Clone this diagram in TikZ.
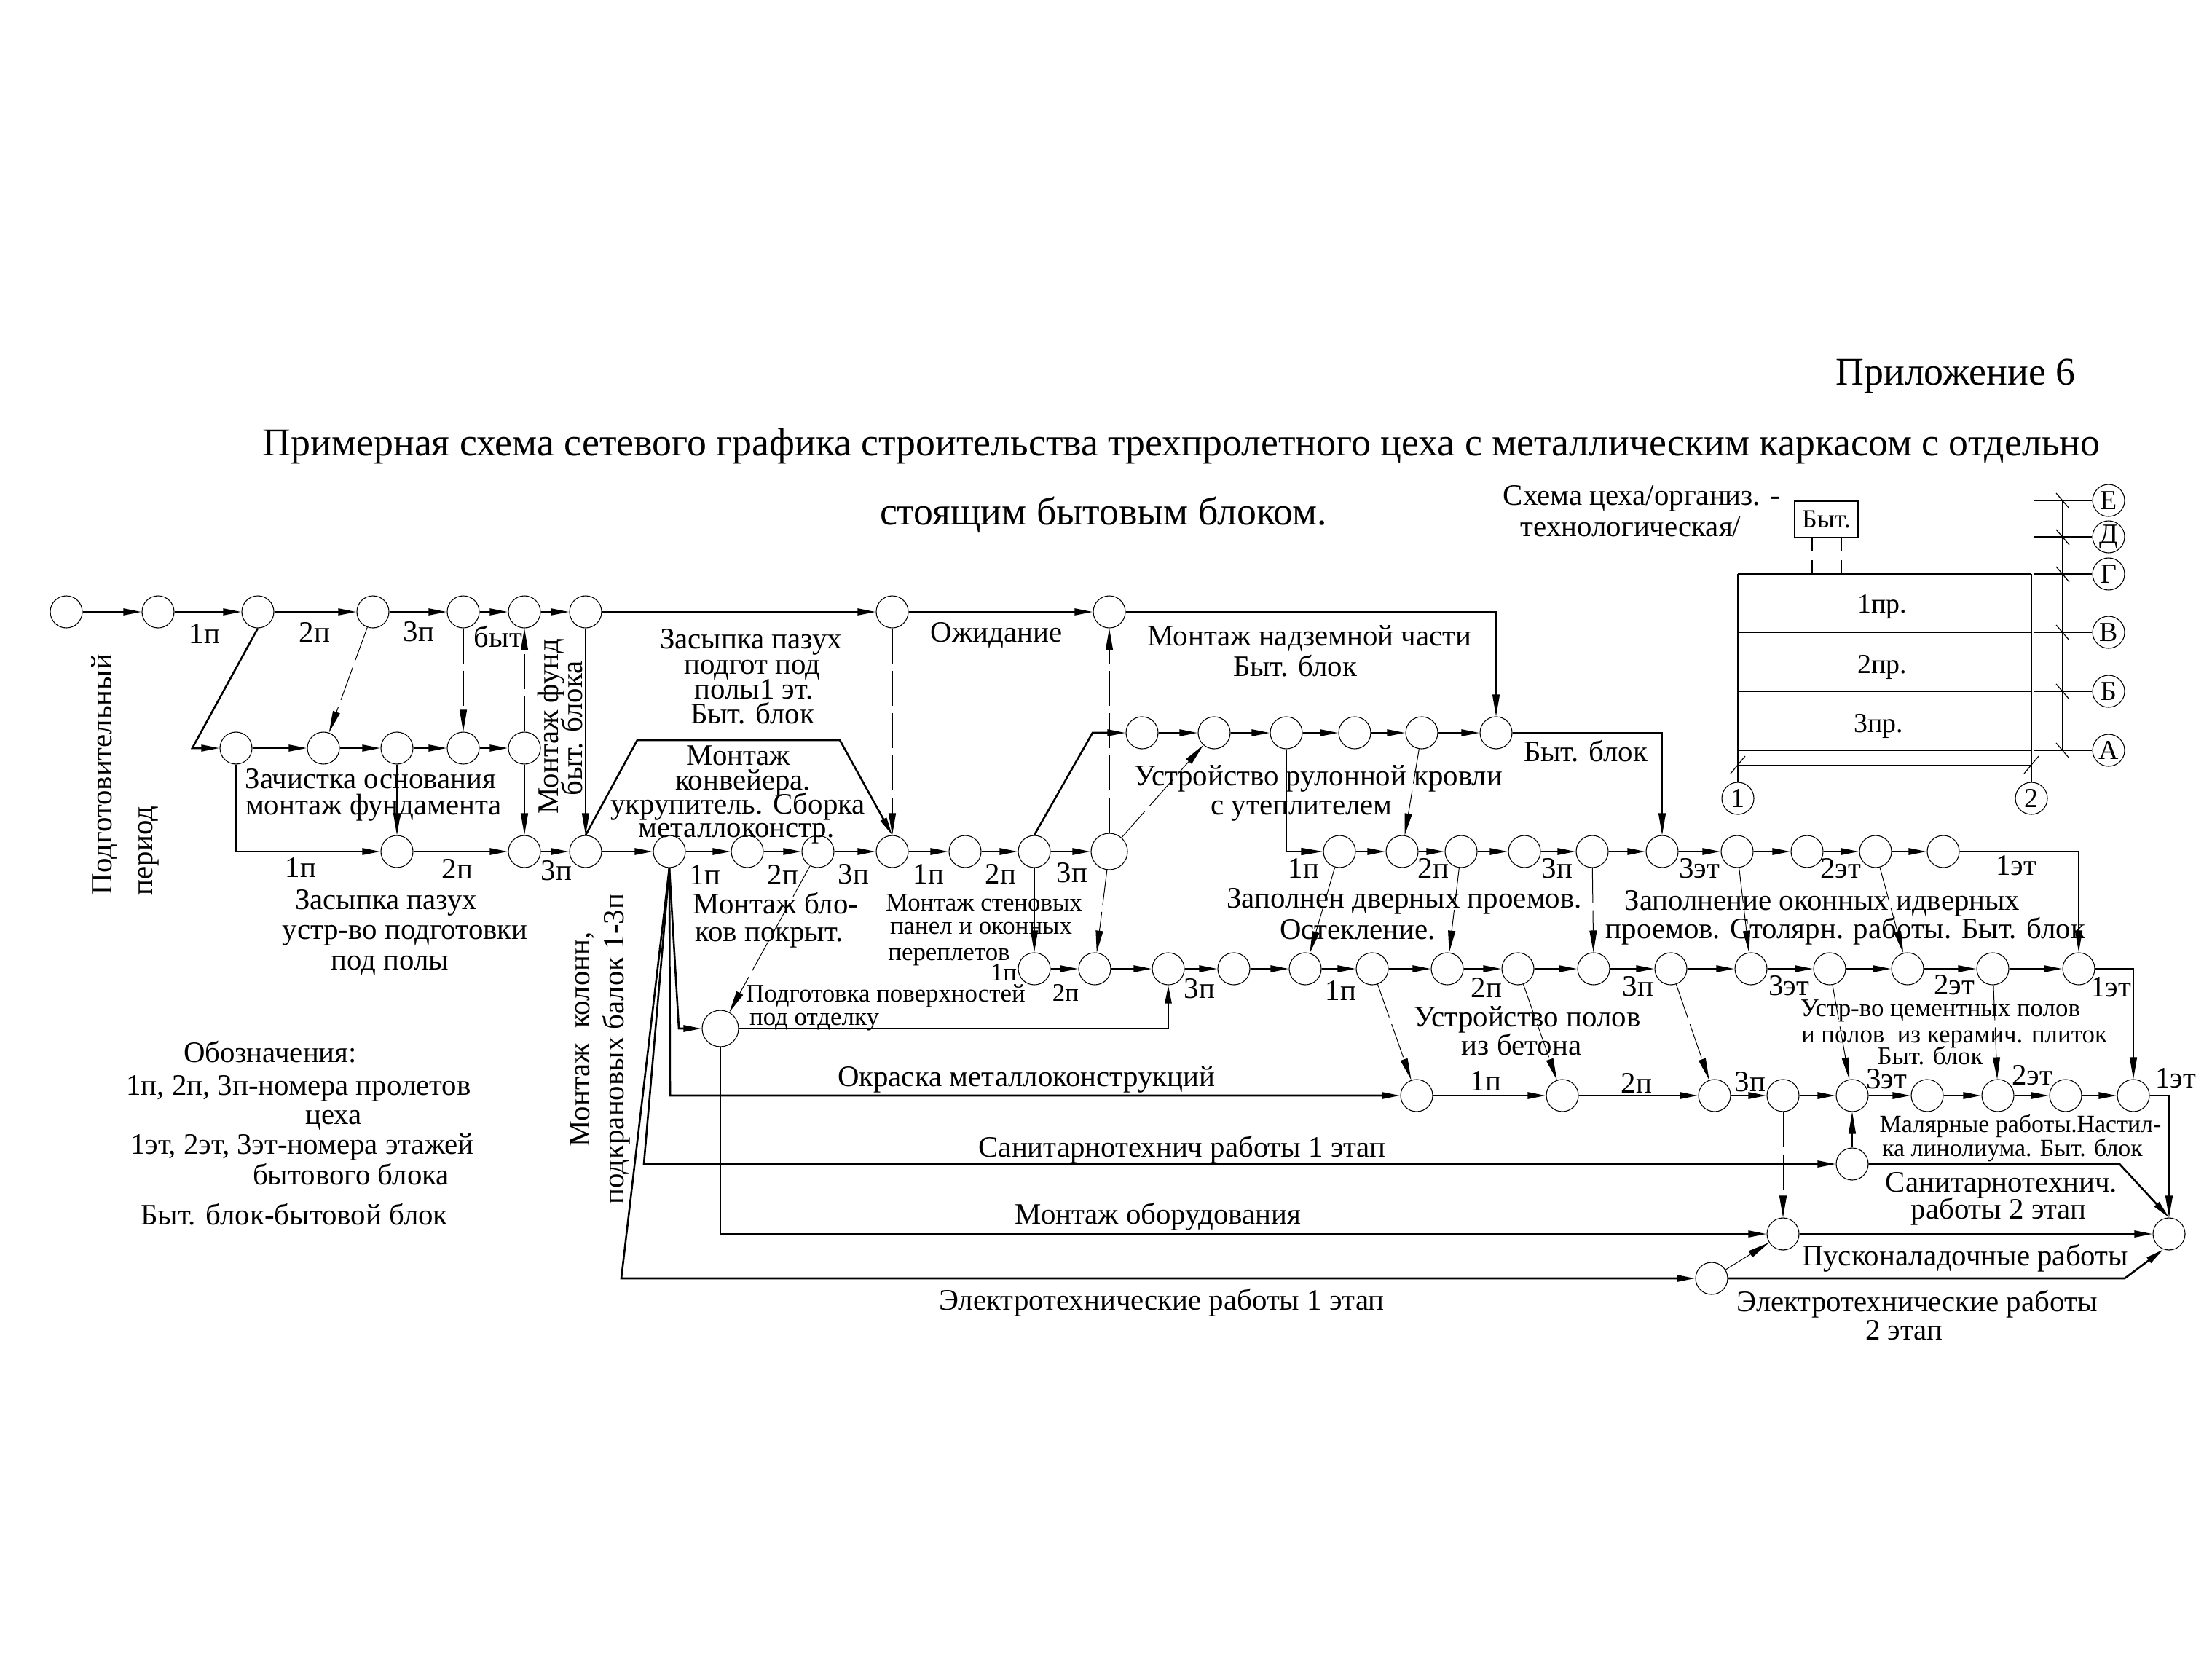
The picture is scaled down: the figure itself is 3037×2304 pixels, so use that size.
\documentclass[tikz,border=0pt]{standalone}
\usepackage{fontspec}
\setmainfont{Liberation Serif}
\usetikzlibrary{arrows.meta}
\newcommand{\fs}[1]{\fontsize{#1}{#1}\selectfont}
\tikzset{
 ev/.style={circle,draw=black,fill=white,line width=1.1bp,minimum size=44bp,inner sep=0pt},
 evb/.style={ev,minimum size=50bp},
 ax/.style={ev,font=\fs{38}},
 act/.style={draw=black,line width=2.6bp,-{Triangle[length=25bp,width=9bp]}},
 thin act/.style={draw=black,line width=1.3bp,-{Triangle[length=30bp,width=10bp]}},
 dum/.style={draw=black,line width=1bp,-{Triangle[length=30bp,width=10bp]},dash pattern=on 48bp off 10bp},
 plain/.style={draw=black,line width=2.6bp},
 tick/.style={draw=black,line width=1.2bp},
 lab/.style={inner sep=0pt,font=\fs{41},align=center,text height=29bp,text depth=9bp,yshift=-3bp},
 labs/.style={lab,font=\fs{35},text height=25bp,text depth=8bp},
 labm/.style={lab,font=\fs{34},text height=25bp,text depth=8bp},
 num/.style={lab,font=\fs{41}},
 ttl/.style={lab,font=\fs{54},text height=38bp,text depth=12bp},
}
\begin{document}
\begin{tikzpicture}[x=1bp,y=-1bp]
\useasboundingbox (0,0) rectangle (3037,2304);
\fill[white] (0,0) rectangle (3037,2304);
% bends
\coordinate (k1) at (264,1027); \coordinate (k2) at (324,1169);
\coordinate (k3) at (875,1016); \coordinate (k4) at (1153,1016);
\coordinate (k5) at (1500,1006); \coordinate (k6) at (2054,840);
\coordinate (k7) at (2282,1006); \coordinate (k8) at (1766,1169);
\coordinate (k9) at (2854,1169); \coordinate (k10) at (2929,1330);
\coordinate (k11) at (2978,1504); \coordinate (k12) at (920,1504);
\coordinate (k13) at (884,1598); \coordinate (k14) at (853,1755);
\coordinate (k15) at (932,1412); \coordinate (k16) at (1604,1412);
\coordinate (k17) at (989,1694); \coordinate (k18) at (2910,1598);
\coordinate (k19) at (2917,1755);
% events
\foreach \n/\x in {a1/91,a2/217,a3/354,a4/512,a5/636,a6/720,a7/804,a8/1225,a9/1523}
  \node[ev] (\n) at (\x,840) {};
\foreach \n/\x in {b1/324,b2/444,b3/545,b4/636,b5/720}
  \node[ev] (\n) at (\x,1027) {};
\foreach \n/\x in {c1/545,c2/720,c3/804,c4/919,c5/1026,c6/1123,c7/1225,c8/1325,c9/1420}
  \node[ev] (\n) at (\x,1169) {};
\node[evb] (c10) at (1523,1169) {};
\foreach \n/\x in {d1/1568,d2/1667,d3/1766,d4/1860,d5/1952,d6/2054}
  \node[ev] (\n) at (\x,1006) {};
\foreach \n/\x in {e1/1839,e2/1925,e3/2006,e4/2093,e5/2186,e6/2282,e7/2385,e8/2481,e9/2575,e10/2668}
  \node[ev] (\n) at (\x,1169) {};
\foreach \n/\x in {f1/1420,f2/1503,f3/1604,f4/1694,f5/1792,f6/1884,f7/1987,f8/2084,f9/2188,f10/2294,f11/2404,f12/2512,f13/2619,f14/2736,f15/2854}
  \node[ev] (\n) at (\x,1330) {};
\foreach \n/\x in {g1/1945,g2/2145,g3/2354,g4/2448,g5/2543,g6/2646,g7/2743,g8/2836,g9/2929}
  \node[ev] (\n) at (\x,1504) {};
\node[evb] (p) at (989,1412) {};
\node[ev] (s) at (2543,1598) {};
\node[ev] (t) at (2448,1694) {};
\node[ev] (u) at (2350,1755) {};
\node[ev] (z) at (2978,1694) {};
% chains
\foreach \a/\b in {a1/a2,a2/a3,a3/a4,a4/a5,a5/a6,a6/a7,a7/a8,a8/a9,b1/b2,b2/b3,b3/b4,b4/b5,
 c1/c2,c2/c3,c3/c4,c4/c5,c5/c6,c6/c7,c7/c8,c8/c9,c9/c10,d1/d2,d2/d3,d3/d4,d4/d5,d5/d6,
 e1/e2,e2/e3,e3/e4,e4/e5,e5/e6,e6/e7,e7/e8,e8/e9,e9/e10,
 f1/f2,f2/f3,f3/f4,f4/f5,f5/f6,f6/f7,f7/f8,f8/f9,f9/f10,f10/f11,f11/f12,f12/f13,f13/f14,f14/f15,
 g1/g2,g2/g3,g3/g4,g4/g5,g5/g6,g6/g7,g7/g8,g8/g9,t/z}
  \draw[act] (\a) -- (\b);
% bent activities
\draw[act] (a3.south) -- (k1) -- (b1);
\draw[act] (b1.south) -- (k2) -- (c1);
\draw[act] (c3.north) -- (k3) -- (k4) -- (c7.north);
\draw[act] (c9.north) -- (k5) -- (d1);
\draw[thin act] (a9) -- (k6) -- (d6.north);
\draw[thin act] (d6) -- (k7) -- (e6.north);
\draw[thin act] (d3.south) -- (k8) -- (e1);
\draw[thin act] (e10) -- (k9) -- (f15.north);
\draw[thin act] (f15) -- (k10) -- (g9.north);
\draw[thin act] (g9) -- (k11) -- (z.north);
\draw[act] (c4.south) -- (k12) -- (g1);
\draw[act] (c4.south) -- (k13) -- (s);
\draw[act] (c4.south) -- (k14) -- (u);
\draw[act] (c4.south) -- (k15) -- (p);
\draw[act] (p) -- (k16) -- (f3.south);
\draw[act] (p.south) -- (k17) -- (t);
\draw[act] (s) -- (k18) -- (z.north);
\draw[act] (u) -- (k19) -- (z.250);
% thin solid dependencies
\draw[thin act] (a7) -- (c3);
\draw[thin act] (b3) -- (c1);
\draw[thin act] (b5) -- (c2);
\draw[thin act] (c9) -- (f1);
\draw[thin act] (s) -- (g5);
% dashed dependencies
\foreach \a/\b in {a4/b2,a5/b4,b5/a6,a8/c7,c10/a9,c10/d2,c10/f2,c6/p,d5/e2,e1/f5,e3/f7,e5/f9,e7/f11,e9/f13,
 f6/g1,f8/g2,f10/g3,f12/g5,f14/g7,g4/t,u/t}
  \draw[dum] (\a) -- (\b);
% titles
\node[ttl] (tt1) at (2685,512) {Приложение 6};
\node[ttl] (tt2) at (1622,609) {Примерная схема сетевого графика строительства трехпролетного цеха с металлическим каркасом с отдельно};
\node[ttl] (tt3) at (1515,704) {стоящим бытовым блоком.};
% labels
\foreach \t/\x/\y in {1п/281/870,2п/432/868,3п/575/867,быт/684/875,1п/413/1191,2п/628/1193,3п/764/1195,
 1п/968/1201,2п/1075/1201,3п/1172/1200,1п/1275/1200,2п/1374/1200,3п/1472/1198,3п/1647/1357,
 1п/1790/1192,2п/1968/1192,3п/2138/1192,3эт/2333/1192,2эт/2527/1192,1эт/2768/1188,
 1п/1841/1360,2п/2041/1356,3п/2249/1354,3эт/2456/1353,2эт/2683/1352,1эт/2898/1355,
 1п/2040/1484,2п/2247/1487,3п/2403/1485,3эт/2590/1481,2эт/2790/1476,1эт/2987/1480}
  \node[num] at (\x,\y) {\t};
\node[labs] at (1378,1335) {1п};
\node[labs] at (1463,1363) {2п};
\node[lab,rotate=90] at (143,1060) {Подготовительный};
\node[lab,rotate=90] at (199,1165) {период};
\node[lab,rotate=90] at (756,994) {Монтаж фунд};
\node[lab,rotate=90] at (789,997) {быт. блока};
\node[lab] at (509,1069) {Зачистка основания};
\node[lab] at (513,1105) {монтаж фундамента};
\node[lab] at (530,1235) {Засыпка пазух};
\node[lab] at (556,1276) {устр-во подготовки};
\node[lab] at (535,1318) {под полы};
\node[lab,rotate=90] at (799,1424) {Монтаж\ \ колонн,};
\node[lab,rotate=90] at (846,1437) {подкрановых балок 1-3п};
\node[lab] at (1031,877) {Засыпка пазух};
\node[lab] at (1033,912) {подгот под};
\node[lab] at (1035,946) {полы1 эт.};
\node[lab] at (1033,980) {Быт. блок};
\node[lab] at (1368,868) {Ожидание};
\node[lab] at (1014,1037) {Монтаж};
\node[lab] at (1020,1071) {конвейера.};
\node[lab] at (1013,1104) {укрупитель. Сборка};
\node[lab] at (1011,1136) {металлоконстр.};
\node[lab] at (1065,1241) {Монтаж бло-};
\node[lab] at (1056,1279) {ков покрыт.};
\node[labs] at (1351,1239) {Монтаж стеновых};
\node[labs] at (1347,1271) {панел и оконных};
\node[labs] at (1303,1307) {переплетов};
\node[labs] at (1216,1364) {Подготовка поверхностей};
\node[labs] at (1118,1396) {под отделку};
\node[lab] at (1409,1478) {Окраска металлоконструкций};
\node[lab] at (1623,1575) {Санитарнотехнич работы 1 этап};
\node[lab] at (1590,1667) {Монтаж оборудования};
\node[lab] at (1595,1785) {Электротехнические работы 1 этап};
\node[lab] at (1798,873) {Монтаж надземной части};
\node[lab] at (1778,915) {Быт. блок};
\node[lab] at (2177,1032) {Быт. блок};
\node[lab] at (1810,1065) {Устройство рулонной кровли};
\node[lab] at (1787,1105) {с утеплителем};
\node[lab] at (1928,1233) {Заполнен дверных проемов.};
\node[lab] at (1864,1276) {Остекление.};
\node[lab] at (2502,1236) {Заполнение оконных идверных};
\node[lab] at (2534,1275) {проемов. Столярн. работы. Быт. блок};
\node[lab] at (2097,1396) {Устройство полов};
\node[lab] at (2089,1435) {из бетона};
\node[labs] at (2664,1384) {Устр-во цементных полов};
\node[labs] at (2683,1420) {и полов\ \ из керамич. плиток};
\node[labs] at (2650,1450) {Быт. блок};
\node[labm] at (2774,1543) {Малярные работы.Настил-};
\node[labm] at (2763,1576) {ка линолиума. Быт. блок};
\node[lab] at (2748,1623) {Санитарнотехнич.};
\node[lab] at (2744,1660) {работы 2 этап};
\node[lab] at (2698,1724) {Пусконаладочные работы};
\node[lab] at (2632,1787) {Электротехнические работы};
\node[lab] at (2614,1826) {2 этап};
% legend
\node[lab] at (371,1445) {Обозначения:};
\node[lab] at (410,1490) {1п, 2п, 3п-номера пролетов};
\node[lab] at (458,1530) {цеха};
\node[lab] at (415,1571) {1эт, 2эт, 3эт-номера этажей};
\node[lab] at (482,1613) {бытового блока};
\node[lab] at (404,1668) {Быт. блок-бытовой блок};
% plan
\node[lab] at (2254,680) {Схема цеха/организ. -};
\node[lab] at (2239,723) {технологическая/};
\node[draw=black,line width=2.2bp,minimum width=87bp,minimum height=50bp,inner sep=0pt,font=\fs{36}] (bb) at (2507.5,713) {Быт.};
\foreach \x in {2488,2528} {
  \draw[tick] (\x,738) -- (\x,757);
  \draw[tick] (\x,769) -- (\x,788);
}
\foreach \y in {788,868,949,1030,1051}
  \draw[plain] (2386,\y) -- (2789,\y);
\node[ax] (n1) at (2386,1096) {1};
\node[ax] (n2) at (2789,1096) {2};
\draw[plain] (2386,788) -- (n1.north);
\draw[plain] (2789,788) -- (n2.north);
\foreach \x in {2386,2789}
  \draw[tick] (\x-10,1062) -- (\x+10,1038);
\node[lab,font=\fs{38}] at (2584,828) {1пр.};
\node[lab,font=\fs{38}] at (2584,911) {2пр.};
\node[lab,font=\fs{38}] at (2579,992) {3пр.};
\foreach \n/\t/\y in {E/Е/687,D/Д/737,G/Г/788,V/В/868,B/Б/949,A/А/1030} {
  \node[ax] (ax\n) at (2895,\y) {\t};
  \coordinate (st\n) at (2793,\y);
  \draw[plain,line width=1.8bp] (st\n) -- (ax\n);
  \draw[tick] (2823,\y-10) -- (2841,\y+11);
}
\draw[plain,line width=1.8bp] (2832,687) -- (2832,1030);
\end{tikzpicture}
\end{document}
